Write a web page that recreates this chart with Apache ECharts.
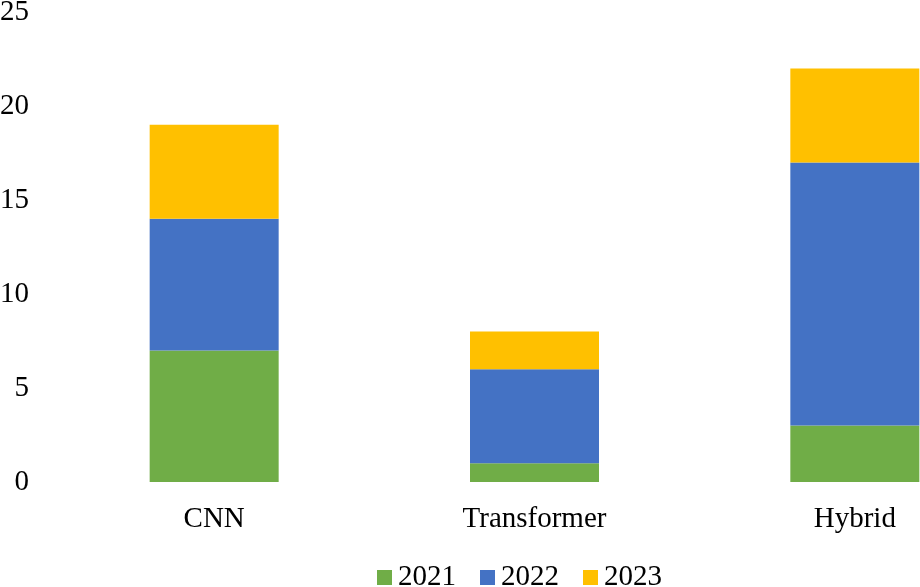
<!DOCTYPE html>
<html>
<head>
<meta charset="utf-8">
<script src="https://cdn.jsdelivr.net/npm/echarts@6/dist/echarts.min.js"></script>
<style>
html,body{margin:0;padding:0;background:#fff;}
#main{width:920px;height:587px;}
</style>
</head>
<body>
<div id="main"></div>
<script>
var categories = ['CNN', 'Transformer', 'Hybrid'];
var years = ['2021', '2022', '2023'];
var v2021 = [7, 1, 3];
var v2022 = [7, 5, 14];
var v2023 = [5, 2, 5];
var yTicks = [0, 5, 10, 15, 20, 25];
var color = ['#70ad47', '#4472c4', '#ffc000'];

var font = '"Liberation Serif", "Times New Roman", serif';
var myChart = echarts.init(document.getElementById('main'));
var values = [v2021, v2022, v2023];
var series = [];
for (var i = 0; i < years.length; i++) {
    series.push({
        name: years[i],
        type: 'bar',
        stack: 'total',
        barWidth: 129,
        data: values[i],
        itemStyle: { color: color[i] }
    });
}
var option = {
    animation: false,
    color: color,
    textStyle: { fontFamily: font },
    // plot area runs past the right edge, as in the cropped original
    grid: {
        left: 54,
        width: 961,
        top: 12,
        bottom: 105,
        outerBoundsMode: 'none',
        containLabel: false
    },
    legend: {
        data: years,
        left: 377,
        top: 563,
        padding: 0,
        itemWidth: 15,
        itemHeight: 15,
        itemGap: 24,
        icon: 'rect',
        textStyle: { fontFamily: font, fontSize: 29, color: '#000', padding: [0, 0, 0, 1] }
    },
    xAxis: {
        type: 'category',
        data: categories,
        axisLine: { show: false },
        axisTick: { show: false },
        axisLabel: { fontFamily: font, fontSize: 29, color: '#000', margin: 23 }
    },
    yAxis: {
        type: 'value',
        min: yTicks[0],
        max: yTicks[yTicks.length - 1],
        interval: 5,
        splitLine: { show: false },
        axisLine: { show: false },
        axisTick: { show: false },
        axisLabel: { fontFamily: font, fontSize: 29, color: '#000', margin: 25 }
    },
    series: series
};
myChart.setOption(option, true);
</script>
</body>
</html>
